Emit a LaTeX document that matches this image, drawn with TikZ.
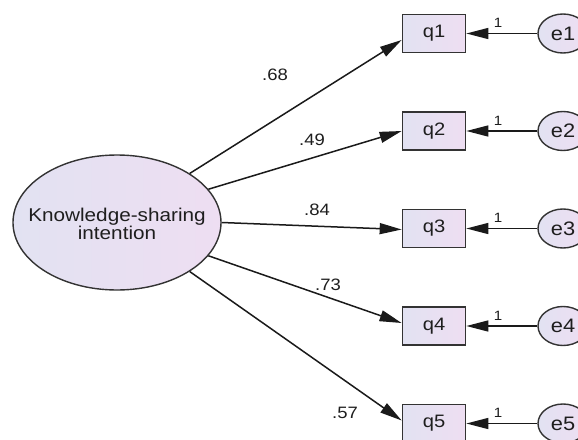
\documentclass[tikz,border=0pt]{standalone}
\usepackage{fontspec}
\setmainfont[FakeStretch=1.12]{Liberation Sans}
\usetikzlibrary{shapes.geometric,arrows.meta}
\definecolor{linec}{HTML}{1A1A1A}
\definecolor{boxline}{HTML}{333333}
\definecolor{fillL}{RGB}{226,226,242}
\definecolor{fillR}{RGB}{238,222,242}
\definecolor{txt}{HTML}{1E1E1E}
\begin{document}
\begin{tikzpicture}[x=1pt,y=-1pt,
  latent/.style={ellipse, draw=boxline, line width=1.4pt, left color=fillL, right color=fillR, minimum width=208pt, minimum height=135pt, inner sep=0pt},
  obs/.style={rectangle, draw=boxline, line width=1.7pt, left color=fillL, right color=fillR, minimum width=63pt, minimum height=38pt, inner sep=0pt, font=\fontsize{18}{20}\selectfont, text=txt},
  err/.style={ellipse, draw=boxline, line width=1.4pt, left color=fillL, right color=fillR, minimum width=50pt, minimum height=39pt, inner sep=0pt, font=\fontsize{19.5}{20}\selectfont, text=txt},
  path/.style={draw=linec, line width=1.5pt, -{Triangle[length=22pt,width=11pt]}},
  coef/.style={font=\fontsize{16.5}{18}\selectfont, text=txt, inner sep=0pt},
  one/.style={font=\fontsize{13.5}{15}\selectfont, text=txt, inner sep=0pt}]
\useasboundingbox (0,0) rectangle (578,439);
\fill[white] (0,0) rectangle (578,439);
\clip (0,0) rectangle (578,439);

\node[latent] (ks) at (117,222.5) {};
\node[font=\fontsize{18.5}{16.5}\selectfont, align=center, text=txt, inner sep=0pt] (kst) at ([yshift=-1.5pt]ks.center) {Knowledge-sharing\\intention};

\foreach \i/\y in {1/33.5,2/131,3/228.5,4/326,5/423.5}{
  \node[obs] (q\i) at (434,\y) {q\i};
  \node[err] (e\i) at (563,\y) {e\i};
  \draw[path] (e\i) -- (q\i);
  \node[one] (one\i) at (498,\y-10.5) {1};
}

\draw[path] (ks.34.7) -- ([yshift=-6.5pt]q1.west);
\draw[path] (ks.20.4) -- (q2.west);
\draw[path] (ks.0) -- ([yshift=-1pt]q3.west);
\draw[path] (ks.-20.4) -- ([yshift=3pt]q4.west);
\draw[path] (ks.-34.7) -- ([yshift=3pt]q5.west);

\node[coef] (c1) at (275,75) {.68};
\node[coef] (c2) at (312,140) {.49};
\node[coef] (c3) at (317,210) {.84};
\node[coef] (c4) at (328,285) {.73};
\node[coef] (c5) at (345,413) {.57};
\end{tikzpicture}
\end{document}
